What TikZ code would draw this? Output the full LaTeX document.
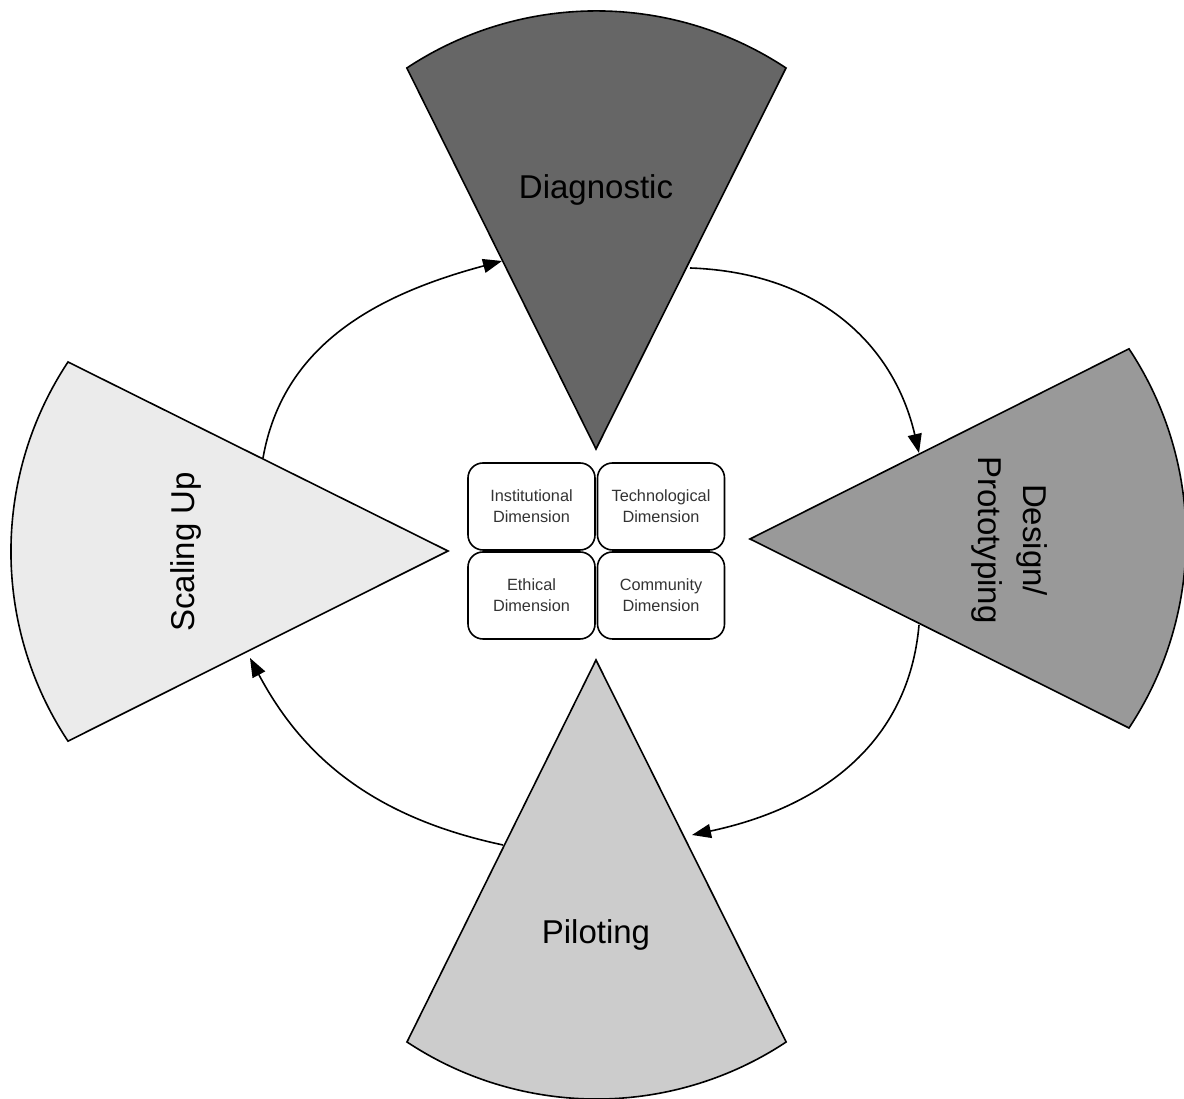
\documentclass[tikz,border=0pt]{standalone}
\usepackage{fontspec}
\setmainfont{Liberation Sans}
\usetikzlibrary{calc,arrows.meta}
\definecolor{diagfill}{HTML}{666666}
\definecolor{designfill}{HTML}{999999}
\definecolor{pilotfill}{HTML}{CCCCCC}
\definecolor{scalefill}{HTML}{EBEBEB}
\begin{document}
\begin{tikzpicture}[x=1pt,y=1pt,
  sector/.style={draw=black,line width=1.6pt,line join=miter},
  phase/.style={font=\fontsize{33}{45}\selectfont,align=center,inner sep=0pt,text=black},
  dimbox/.style={draw=black,line width=1.6pt,rounded corners=15pt,
    minimum width=127pt,minimum height=87pt,inner sep=0pt,align=center,
    font=\fontsize{16.3}{21}\selectfont,text=black!80},
  flow/.style={line width=1.6pt,-{Triangle[length=19pt,width=14pt]}}
]
\useasboundingbox (0,0) rectangle (1184,1099);

% apex and rim corners of the four phase sectors
\coordinate (D0) at (596,650);
\coordinate (DR) at (786,1031);
\coordinate (E0) at (750,560);
\coordinate (EB) at (1129,371);
\coordinate (P0) at (596,439);
\coordinate (PL) at (407,57);
\coordinate (S0) at (448,548);
\coordinate (ST) at (68,737);

% phase sectors
\draw[sector,fill=diagfill]   (D0) -- (DR) arc[start angle=56.5,end angle=123.5,radius=343.5] -- cycle;
\draw[sector,fill=designfill] (E0) -- (EB) arc[start angle=-33.5,end angle=33.5,radius=343.5] -- cycle;
\draw[sector,fill=pilotfill]  (P0) -- (PL) arc[start angle=236.5,end angle=303.5,radius=343.5] -- cycle;
\draw[sector,fill=scalefill]  (S0) -- (ST) arc[start angle=146.5,end angle=213.5,radius=343.5] -- cycle;

% phase labels
\node[phase] (diagnostic) at (596,909) {Diagnostic};
\node[phase,rotate=-90] (design) at (1010,559) {Design/\\Prototyping};
\node[phase] (piloting) at (596,164) {Piloting};
\node[phase,rotate=90] (scaling) at (186,547) {Scaling Up};

% dimensions in the centre
\node[dimbox] (inst) at (531.5,592.5) {Institutional\\Dimension};
\node[dimbox] (tech) at (661,592.5) {Technological\\Dimension};
\node[dimbox] (eth)  at (531.5,503.5) {Ethical\\Dimension};
\node[dimbox] (comm) at (661,503.5) {Community\\Dimension};

% ends of the cycle arrows on the sector edges
\coordinate (c1a) at (263,641);
\coordinate (c1b) at (502,838);
\coordinate (c2a) at (690,831);
\coordinate (c2b) at (919,646);
\coordinate (c3a) at (919,474);
\coordinate (c3b) at (692,264);
\coordinate (c4a) at (503,254);
\coordinate (c4b) at (250,441);

% cycle arrows
\draw[flow] (c1a) .. controls +(80:115) and +(195:130) .. (c1b);
\draw[flow] (c2a) .. controls +(-2:130) and +(103:110) .. (c2b);
\draw[flow] (c3a) .. controls +(-95:120) and +(12:130) .. (c3b);
\draw[flow] (c4a) .. controls +(168:135) and +(-62:110) .. (c4b);
\end{tikzpicture}
\end{document}
